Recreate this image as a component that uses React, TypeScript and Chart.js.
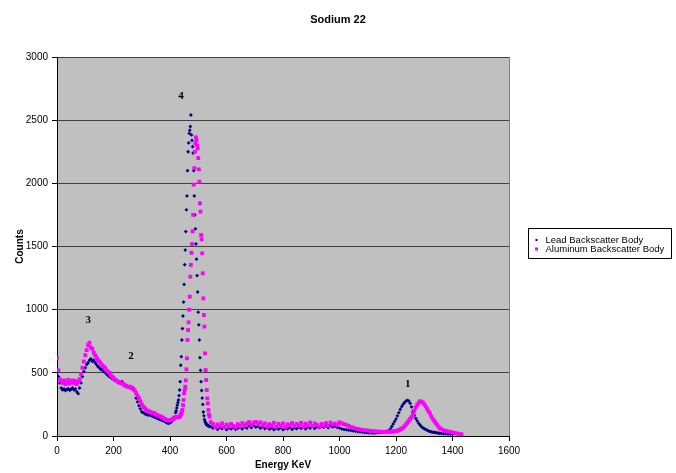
import React, { useEffect, useRef } from 'react';
import { Chart, registerables } from 'chart.js';

Chart.register(...registerables);

const chartTitle = 'Sodium 22';
const xAxisTitle = 'Energy KeV';
const yAxisTitle = 'Counts';
const seriesNames = ['Lead Backscatter Body', 'Aluminum Backscatter Body'];
const seriesColors = ['#000080', '#FF00FF'];

// Energy (keV) of each plotted channel
const energyKeV = [
  0, 5, 10, 15, 20, 25, 30, 35, 40, 45,
  50, 55, 60, 65, 70, 75, 80, 85, 90, 95,
  100, 105, 110, 115, 120, 125, 130, 135, 140, 145,
  150, 155, 160, 165, 170, 175, 180, 185, 190, 195,
  200, 205, 210, 215, 220, 225, 230, 235, 240, 245,
  250, 255, 260, 265, 270, 275, 280, 285, 290, 295,
  300, 305, 310, 315, 320, 325, 330, 335, 340, 345,
  350, 355, 360, 365, 370, 375, 380, 385, 390, 395,
  400, 405, 410, 415, 420,
  422, 424, 426, 428, 430, 432, 434, 436, 438, 440,
  442, 444, 446, 448, 450, 452, 454, 456, 458, 460,
  462, 464, 466, 468, 470, 472, 474, 476, 478, 480,
  482, 484, 486, 488, 490, 492, 494, 496, 498, 500,
  502, 504, 506, 508, 510, 512, 514, 516, 518, 520,
  522, 524, 526, 528, 530, 532, 534, 536, 538, 540,
  544, 552, 560, 568, 576, 584, 592, 600, 608, 616,
  624, 632, 640, 648, 656, 664, 672, 680, 688, 696,
  704, 712, 720, 728, 736, 744, 752, 760, 768, 776,
  784, 792, 800, 808, 816, 824, 832, 840, 848, 856,
  864, 872, 880, 888, 896, 904, 912, 920, 928, 936,
  944, 952, 960, 968, 976, 984, 992, 1000, 1008, 1016,
  1024, 1032, 1040, 1048, 1056, 1064, 1072, 1080, 1088, 1096,
  1104, 1112, 1120, 1128, 1136, 1144, 1152, 1160, 1168, 1176,
  1180, 1185, 1190, 1195, 1200, 1205, 1210, 1215, 1220, 1225,
  1230, 1235, 1240, 1245, 1250, 1255, 1260, 1265, 1270, 1275,
  1280, 1285, 1290, 1295, 1300, 1305, 1310, 1315, 1320, 1325,
  1330, 1335, 1340, 1345, 1350, 1355, 1360,
  1368, 1376, 1384, 1392, 1400, 1408, 1416, 1424, 1432,
];

const leadCounts: (number | null)[] = [
  500, 470, 420, 380, 365, 372, 360, 368, 375, 362,
  370, 380, 365, 372, 350, 335, 380, 420, 470, 510,
  540, 565, 580, 600, 610, 590, 600, 580, 565, 550,
  540, 525, 530, 510, 505, 490, 480, 470, 465, 455,
  450, 440, 445, 430, 425, 420, 430, 410, 405, 400,
  395, 390, 385, 380, 380, 360, 300, 270, 240, 215,
  192, 185, 178, 172, 168, 166, 165, 160, 155, 150,
  145, 140, 135, 130, 125, 122, 118, 110, 102, 100,
  105, 112, 125, 150, 185,
  200, 222, 245, 265, 285, 320, 364, 430, 560, 628,
  760, 850, 950, 1060, 1200, 1356, 1472, 1618, 1790, 1900,
  2100, 2250, 2320, 2396, 2420, 2450, 2541, 2383, 2340, 2290,
  2240, 2100, 1900, 1750, 1640, 1520, 1400, 1270, 1140, 980,
  880, 760, 620, 520, 430, 360, 300, 250, 190, 160,
  130, 115, 105, 95, 90, 86, 82, 80, 78, 76,
  75, 62, 70, 52, 66, 58, 72, 50, 64, 56,
  68, 52, 60, 70, 56, 74, 62, 80, 66, 84,
  70, 78, 62, 74, 58, 68, 54, 64, 50, 62,
  54, 66, 50, 60, 56, 68, 52, 64, 58, 70,
  60, 72, 56, 70, 62, 76, 60, 72, 66, 78,
  70, 80, 66, 82, 72, 78, 68, 64, 56, 52,
  50, 46, 44, 40, 38, 35, 33, 30, 28, 26,
  25, 24, 22, 24, 26, 28, 30, 34, 38, 45,
  55, 75, 95, 115, 135, 160, 185, 210, 232, 250,
  265, 275, 282, 278, 259, 230, 195, 165, 140, 120,
  100, 87, 75, 65, 58, 52, 46, 40, 36, 33,
  30, 28, 27, 25, 23, 21, 20,
  18, 17, 16, 15, 14, null, null, null, null,
];

const aluminumCounts: (number | null)[] = [
  617, 520, 450, 430, 420, 440, 410, 425, 445, 415,
  430, 440, 420, 435, 410, 430, 450, 490, 540, 590,
  640, 680, 720, 738, 700, 690, 660, 640, 620, 600,
  590, 575, 560, 550, 540, 520, 510, 500, 480, 470,
  460, 445, 440, 430, 425, 420, 415, 410, 400, 395,
  390, 385, 390, 380, 370, 360, 340, 320, 300, 275,
  250, 232, 222, 210, 200, 195, 190, 185, 182, 180,
  170, 165, 160, 155, 150, 145, 135, 130, 125, 122,
  125, 128, 135, 140, 148,
  150, 148, 152, 150, 148, 150, 153, 160, 168, 180,
  192, 206, 245, 285, 338, 365, 390, 440, 528, 615,
  760, 839, 900, 1000, 1103, 1261, 1354, 1450, 1520, 1620,
  1750, 1990, 2120, 2250, 2317, 2364, 2343, 2300, 2277, 2200,
  2111, 2013, 1842, 1776, 1591, 1557, 1446, 1288, 1090, 958,
  866, 654, 522, 443, 364, 298, 258, 206, 170, 153,
  110, 95, 70, 92, 76, 100, 68, 90, 74, 96,
  80, 66, 94, 78, 102, 84, 98, 110, 88, 106,
  112, 92, 108, 86, 100, 74, 94, 82, 104, 72,
  96, 78, 100, 70, 92, 84, 102, 76, 96, 80,
  104, 74, 98, 82, 106, 78, 100, 88, 72, 96,
  84, 102, 80, 106, 90, 98, 86, 108, 100, 94,
  88, 80, 72, 65, 60, 56, 52, 48, 46, 44,
  42, 40, 38, 36, 35, 34, 33, 32, 33, 34,
  34, 35, 36, 38, 40, 42, 46, 52, 58, 65,
  78, 90, 105, 120, 135, 150, 175, 200, 225, 245,
  262, 275, 272, 265, 250, 235, 215, 195, 180, 155,
  135, 120, 105, 90, 75, 62, 55,
  46, 40, 36, 33, 28, 24, 20, 16, 14,
];

// Peak annotations (text, energy keV, counts)
const peakLabels = ['1', '2', '3', '4'];
const peakLabelKeV = [1242, 262, 111, 439];
const peakLabelCounts = [412, 633, 915, 2691];

const FONT = '"Liberation Sans", Arial, sans-serif';

function toPoints(ys: (number | null)[]) {
  const pts: { x: number; y: number }[] = [];
  energyKeV.forEach((x, i) => {
    const y = ys[i];
    if (y !== null && y !== undefined) pts.push({ x, y });
  });
  return pts;
}

const plotBgPlugin = {
  id: 'plotBg',
  beforeDraw(chart: any) {
    const { ctx, chartArea: a } = chart;
    ctx.save();
    ctx.fillStyle = '#C0C0C0';
    ctx.fillRect(a.left, a.top, a.right - a.left, a.bottom - a.top);
    ctx.restore();
  },
  beforeDatasetsDraw(chart: any) {
    const { ctx, chartArea: a } = chart;
    ctx.save();
    ctx.strokeStyle = '#808080';
    ctx.lineWidth = 1;
    ctx.beginPath();
    ctx.moveTo(Math.round(a.right) + 0.5, a.top);
    ctx.lineTo(Math.round(a.right) + 0.5, a.bottom);
    ctx.stroke();
    ctx.restore();
  },
};

const titlePlugin = {
  id: 'canvasTitle',
  afterDraw(chart: any) {
    const { ctx, width } = chart;
    ctx.save();
    ctx.fillStyle = '#000';
    ctx.font = `bold 11px ${FONT}`;
    ctx.textAlign = 'center';
    ctx.textBaseline = 'middle';
    ctx.fillText(chartTitle, width / 2, 20);
    ctx.restore();
  },
};

const peakLabelPlugin = {
  id: 'peakLabels',
  afterDatasetsDraw(chart: any) {
    const { ctx, scales } = chart;
    ctx.save();
    ctx.fillStyle = '#000';
    ctx.font = 'bold 11px "Liberation Serif", "Times New Roman", serif';
    ctx.textAlign = 'center';
    ctx.textBaseline = 'middle';
    peakLabels.forEach((t, i) => {
      ctx.fillText(t, scales.x.getPixelForValue(peakLabelKeV[i]), scales.y.getPixelForValue(peakLabelCounts[i]));
    });
    ctx.restore();
  },
};

const boxLegendPlugin = {
  id: 'boxLegend',
  afterDraw(chart: any) {
    const { ctx, chartArea: a } = chart;
    const bx = Math.round(a.right) + 19.5;
    const by = 228.5;
    const bw = 143;
    const bh = 30;
    ctx.save();
    ctx.fillStyle = '#fff';
    ctx.fillRect(bx, by, bw, bh);
    ctx.strokeStyle = '#000';
    ctx.lineWidth = 1;
    ctx.strokeRect(bx, by, bw, bh);
    ctx.font = `9.5px ${FONT}`;
    ctx.textBaseline = 'middle';
    ctx.textAlign = 'left';
    seriesNames.forEach((name, i) => {
      const cy = by + 11.5 + i * 9;
      const s = i === 0 ? 2 : 3;
      ctx.fillStyle = seriesColors[i];
      ctx.fillRect(bx + 8 - s / 2, cy - s / 2, s, s);
      ctx.fillStyle = '#000';
      ctx.fillText(name, bx + 17, cy);
    });
    ctx.restore();
  },
};

export default function App() {
  const canvasRef = useRef<HTMLCanvasElement | null>(null);

  useEffect(() => {
    const canvas = canvasRef.current;
    if (!canvas) return;
    const chart = new Chart(canvas, {
      type: 'scatter',
      data: {
        datasets: [
          {
            label: seriesNames[0],
            data: toPoints(leadCounts),
            backgroundColor: seriesColors[0],
            borderColor: seriesColors[0],
            pointStyle: 'rectRot',
            pointRadius: 1.9,
            pointBorderWidth: 0,
            pointHoverRadius: 1.9,
            order: 1,
          },
          {
            label: seriesNames[1],
            data: toPoints(aluminumCounts),
            backgroundColor: seriesColors[1],
            borderColor: seriesColors[1],
            pointStyle: 'rect',
            pointRadius: 2.7,
            pointBorderWidth: 0,
            pointHoverRadius: 2.7,
            order: 0,
          },
        ],
      },
      options: {
        animation: false,
        responsive: false,
        maintainAspectRatio: false,
        events: [],
        layout: { padding: { left: 0, right: 167, top: 57, bottom: 0 } },
        plugins: {
          legend: { display: false },
          tooltip: { enabled: false },
          title: { display: false },
        },
        scales: {
          x: {
            type: 'linear',
            min: 0,
            max: 1600,
            ticks: {
              stepSize: 200,
              color: '#000',
              font: { family: FONT, size: 10 },
              padding: 4,
              maxRotation: 0,
              callback: (v: any) => String(v),
            },
            grid: { drawOnChartArea: false, drawTicks: true, tickLength: 5, tickColor: '#000' },
            border: { color: '#000', width: 1 },
            title: {
              display: true,
              text: xAxisTitle,
              color: '#000',
              font: { family: FONT, size: 10, weight: 'bold' },
              padding: { top: 0, bottom: 2 },
            },
            afterFit: (s: any) => {
              s.height = 37;
            },
          },
          y: {
            type: 'linear',
            min: 0,
            max: 3000,
            ticks: {
              stepSize: 500,
              color: '#000',
              font: { family: FONT, size: 10 },
              padding: 4,
              callback: (v: any) => String(v),
            },
            grid: {
              color: (c: any) => (c.tick && c.tick.value === 0 ? '#000' : '#404040'),
              tickColor: '#000',
              tickLength: 5,
            },
            border: { color: '#000', width: 1 },
            title: {
              display: true,
              text: yAxisTitle,
              color: '#000',
              font: { family: FONT, size: 10, weight: 'bold' },
              padding: { top: 14, bottom: 0 },
            },
            afterFit: (s: any) => {
              s.width = 57;
            },
          },
        },
      } as any,
      plugins: [plotBgPlugin, peakLabelPlugin, boxLegendPlugin, titlePlugin],
    });
    return () => chart.destroy();
  }, []);

  return (
    <div style={{ position: 'fixed', left: 0, top: 0, width: 676, height: 473, background: '#fff' }}>
      <canvas ref={canvasRef} width={676} height={473} />
    </div>
  );
}
